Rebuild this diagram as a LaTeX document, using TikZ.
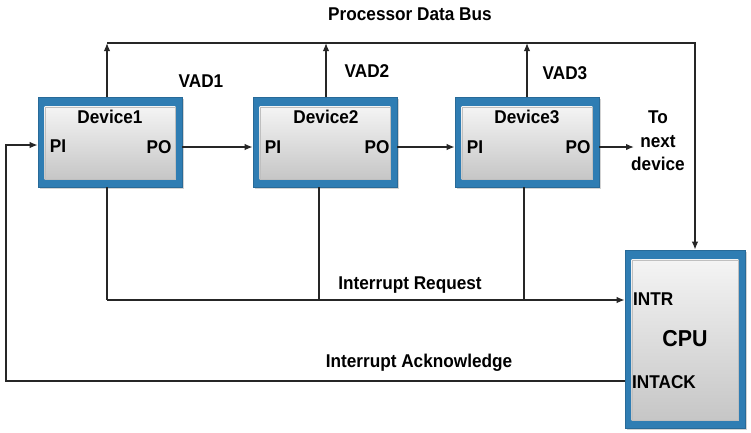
\documentclass[tikz,border=0pt]{standalone}
\usepackage{fontspec}
\setmainfont{Liberation Sans}[FakeStretch=0.93]
\usetikzlibrary{arrows.meta,shadows}
\definecolor{boxblue}{HTML}{2F7DB3}
\definecolor{boxtop}{HTML}{F4F4F4}
\definecolor{boxbot}{HTML}{C6C6C6}
\tikzset{
  x=1pt,y=1pt,
  lab/.style={font=\fontsize{18.5}{23.5}\selectfont\bfseries, inner sep=0pt},
  biglab/.style={font=\fontsize{23}{26}\selectfont\bfseries, inner sep=0pt},
  outerbox/.style={fill=boxblue, draw=boxblue!85!black, line width=0.6pt, inner sep=0pt,
     drop shadow={shadow xshift=1.5pt, shadow yshift=-1.5pt, opacity=0.35}},
  wire/.style={line width=1.4pt, black!85},
  arr/.style={wire, -{Latex[length=8pt,width=6.5pt]}},
}
\newcommand{\innerfill}[1]{%
  \shade[top color=boxtop, bottom color=boxbot, draw=black!25, line width=0.4pt]
    ([shift={(7,-10)}]#1.north west) rectangle ([shift={(-7,8)}]#1.south east);}
\begin{document}
\begin{tikzpicture}
\useasboundingbox (0,0) rectangle (751,-432);
% devices
\node[outerbox, minimum width=144, minimum height=90] (d1) at (110,-142) {};
\node[outerbox, minimum width=144, minimum height=90] (d2) at (325,-142) {};
\node[outerbox, minimum width=144, minimum height=90] (d3) at (527,-142) {};
\node[outerbox, minimum width=120, minimum height=178] (cpu) at (685,-339) {};
\innerfill{d1}\innerfill{d2}\innerfill{d3}\innerfill{cpu}
% texts in devices
\node[lab] (t1) at (110,-117) {Device1};
\node[lab] (t2) at (326,-117) {Device2};
\node[lab] (t3) at (527,-117) {Device3};
\node[lab] (pi1) at (58,-146) {PI};
\node[lab] (po1) at (159,-147) {PO};
\node[lab] (pi2) at (273,-147) {PI};
\node[lab] (po2) at (377,-147) {PO};
\node[lab] (pi3) at (475,-147) {PI};
\node[lab] (po3) at (578,-147) {PO};
\node[lab, anchor=west] (intr) at (633,-299) {INTR};
\node[lab, anchor=west] (intack) at (632,-382) {INTACK};
\node[biglab] (cpulab) at (685,-339) {CPU};
% external labels
\node[lab] (bus) at (410,-14) {Processor Data Bus};
\node[lab] (vad1) at (201,-81) {VAD1};
\node[lab] (vad2) at (367,-71) {VAD2};
\node[lab] (vad3) at (565,-73) {VAD3};
\node[lab, align=center] (next) at (658,-141) {To\\next\\device};
\node[lab] (irq) at (410,-285) {Interrupt Request};
\node[lab] (iack) at (419,-363) {Interrupt Acknowledge};
% coordinates
\coordinate (b1) at (107,-43);
\coordinate (b2) at (326,-43);
\coordinate (b3) at (527,-43);
\coordinate (bend) at (695,-43);
\coordinate (r1) at (107,-300);
\coordinate (r2) at (319,-300);
\coordinate (r3) at (524,-300);
\coordinate (a1) at (6,-381);
\coordinate (a2) at (6,-145);
\coordinate (nx) at (634,-147);
% bus
\draw[arr] (d1.north -| b1) -- (b1);
\draw[arr] (d2.north -| b2) -- (b2);
\draw[arr] (d3.north -| b3) -- (b3);
\draw[arr] (b1) -- (bend) -- (cpu.north -| bend);
% daisy chain
\draw[arr] (d1.east |- po1) -- (d2.west |- po1);
\draw[arr] (d2.east |- po2) -- (d3.west |- po2);
\draw[arr] (d3.east |- po3) -- (nx);
% interrupt request
\draw[wire] (d1.south -| r1) -- (r1);
\draw[wire] (d2.south -| r2) -- (r2);
\draw[wire] (d3.south -| r3) -- (r3);
\draw[arr] (r1) -- (cpu.west |- r1);
% interrupt acknowledge
\draw[arr] (cpu.west |- a1) -- (a1) -- (a2) -- (d1.west |- a2);
\end{tikzpicture}
\end{document}
